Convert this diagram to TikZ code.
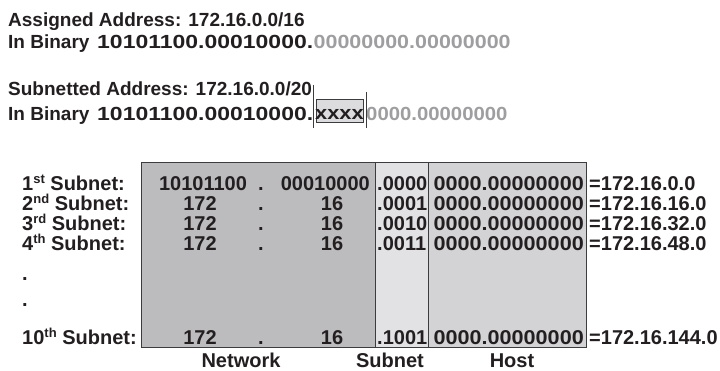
\documentclass[tikz,border=0pt]{standalone}
\usepackage{fontspec}
\setmainfont{Liberation Sans}
\usepackage{graphicx}
\definecolor{ink}{RGB}{35,31,32}
\definecolor{netgray}{RGB}{188,188,190}
\definecolor{subgray}{RGB}{226,226,228}
\definecolor{hostgray}{RGB}{211,211,213}
\definecolor{boxgray}{RGB}{220,220,222}
\definecolor{dimtext}{RGB}{158,158,160}
\definecolor{rulegray}{RGB}{60,60,62}
\newcommand{\wide}[2]{\scalebox{#1}[1]{#2}}
\newcommand{\ordn}[1]{\raisebox{.62ex}{\fontsize{13}{13}\selectfont #1}}
\begin{document}
\begin{tikzpicture}[x=1pt,y=-1pt,line cap=butt,line join=miter,
  txt/.style={inner sep=0pt,anchor=base west,text=ink,
    font=\bfseries\fontsize{19}{22}\selectfont},
  cell/.style={inner sep=0pt,anchor=base,text=ink,
    font=\bfseries\fontsize{20}{22}\selectfont},
  dim/.style={txt,text=dimtext},
  sep/.style={rulegray,line width=.9pt}]
  \useasboundingbox (0,0) rectangle (720,370);
  % Address lines at the top.
  \node[txt] (assigned) at (8,26) {Assigned Address: 172.16.0.0/16};
  \node[txt] (binlabA) at (8,48) {In Binary};
  \node[txt] (binnetA) at (97,48) {\wide{1.21}{10101100.00010000.}};
  \node[dim] (binhostA) at (binnetA.base east) {\wide{1.13}{00000000.00000000}};
  \node[txt] (subnetted) at (8,95) {Subnetted Address: 172.16.0.0/20};
  \node[txt] (binlabB) at (8,120) {In Binary};
  \node[txt] (binnetB) at (97,120) {\wide{1.21}{10101100.00010000.}};
  \draw[sep,line width=.7pt,fill=boxgray] (316,99) rectangle (363,122);
  \node[txt,anchor=base] (xbits) at (339.5,119) {\wide{1.15}{xxxx}};
  \node[dim] (binhostB) at (366,120) {\wide{1.07}{0000.00000000}};
  \coordinate (ltop) at (313,85);
  \coordinate (lbot) at (313,128);
  \coordinate (rtop) at (366,92);
  \coordinate (rbot) at (366,128);
  \draw[sep,line width=.7pt] (ltop) -- (lbot) (rtop) -- (rbot);
  % The subnet table.
  \fill[netgray] (141,162) rectangle (375,347);
  \fill[subgray] (375,162) rectangle (428,347);
  \fill[hostgray] (428,162) rectangle (586,347);
  \draw[sep] (141,162) rectangle (586,347);
  \draw[sep] (375,162) -- (375,347) (428,162) -- (428,347);
  % Row 1 in binary.
  \node[cell,anchor=base west] (lab1) at (22,190) {1\ordn{st} Subnet:};
  \node[cell] (netA1) at (203,190) {10101100};
  \node[cell] (dot1) at (261,190) {.};
  \node[cell,anchor=base east] (netB1) at (370,190) {00010000};
  \node[cell,anchor=base west] (sub1) at (377,190) {.0000};
  \node[cell,anchor=base east] (host1) at (584,190) {\wide{1.08}{0000.00000000}};
  \node[cell,anchor=base west] (res1) at (589,190) {=172.16.0.0};
  % Rows 2 to 4 and 10 in decimal.
  \foreach \r/\yy/\sfx/\bits/\res in {2/210/nd/.0001/16,3/230/rd/.0010/32,
      4/250/th/.0011/48,10/344/th/.1001/144}{
    \node[cell,anchor=base west] (lab\r) at (22,\yy) {\r\ordn{\sfx} Subnet:};
    \node[cell] (netA\r) at (200,\yy) {172};
    \node[cell] (dot\r) at (261,\yy) {.};
    \node[cell] (netB\r) at (332,\yy) {16};
    \node[cell,anchor=base west] (sub\r) at (377,\yy) {\bits};
    \node[cell,anchor=base east] (host\r) at (584,\yy) {\wide{1.08}{0000.00000000}};
    \node[cell,anchor=base west] (res\r) at (589,\yy) {=172.16.\res.0};
  }
  \node[cell,anchor=base west] (skipA) at (22,280) {.};
  \node[cell,anchor=base west] (skipB) at (22,306) {.};
  % Column names.
  \node[cell] (netname) at (241,367) {Network};
  \node[cell] (subname) at (390,367) {Subnet};
  \node[cell] (hostname) at (512,367) {Host};
\end{tikzpicture}
\end{document}
